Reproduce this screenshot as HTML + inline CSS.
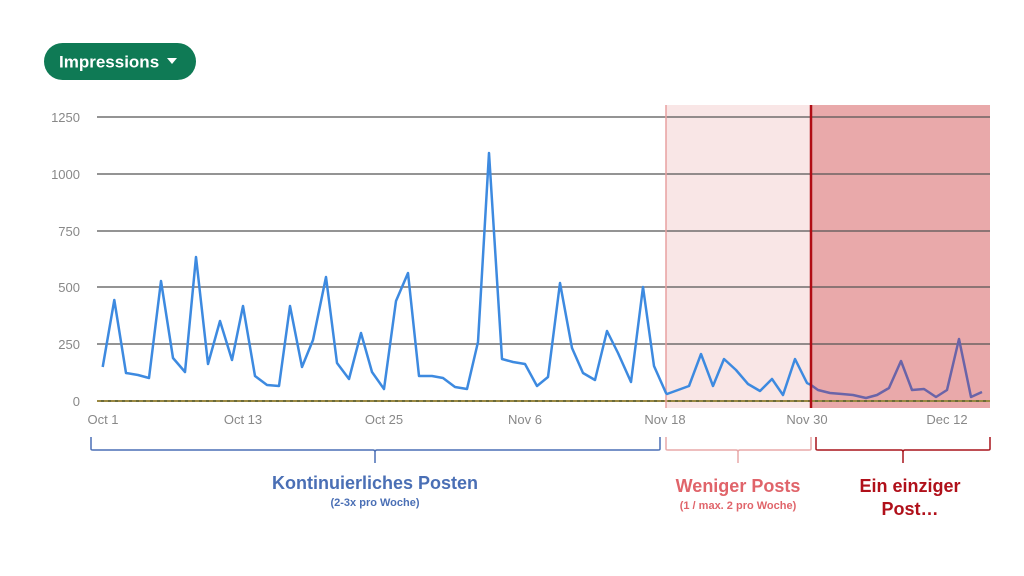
<!DOCTYPE html>
<html><head><meta charset="utf-8"><style>
html,body{margin:0;padding:0;background:#fff;width:1024px;height:576px;overflow:hidden}
svg{display:block}
text{font-family:"Liberation Sans",sans-serif}
</style></head><body>
<svg width="1024" height="576" viewBox="0 0 1024 576" xmlns="http://www.w3.org/2000/svg">
<rect x="44" y="43" width="152" height="37" rx="18.5" fill="#0f7a55"/>
<text x="59" y="67.5" font-size="17" font-weight="bold" fill="#fff">Impressions</text>
<path d="M167 58 L177 58 L172 64 Z" fill="#fff"/>
<rect x="666" y="105" width="145" height="303" fill="#f9e6e6"/>
<rect x="811" y="105" width="179" height="303" fill="#e9a9aa"/>
<g stroke="#555" stroke-width="1.3">
<line x1="97" y1="117" x2="990" y2="117"/>
<line x1="97" y1="174" x2="990" y2="174"/>
<line x1="97" y1="231" x2="990" y2="231"/>
<line x1="97" y1="287" x2="990" y2="287"/>
<line x1="97" y1="344" x2="990" y2="344"/>
</g>
<line x1="97" y1="401" x2="990" y2="401" stroke="#6b6b3a" stroke-width="2"/>
<line x1="97" y1="401" x2="990" y2="401" stroke="#c9a54a" stroke-width="1" stroke-dasharray="4 3"/>
<line x1="666" y1="105" x2="666" y2="408" stroke="#e8a0a0" stroke-width="1.5"/>
<g font-size="13" fill="#888" text-anchor="end">
<text x="80" y="122">1250</text><text x="80" y="179">1000</text><text x="80" y="236">750</text>
<text x="80" y="292">500</text><text x="80" y="349">250</text><text x="80" y="406">0</text>
</g>
<g font-size="13" fill="#888" text-anchor="middle">
<text x="103" y="424">Oct 1</text><text x="243" y="424">Oct 13</text><text x="384" y="424">Oct 25</text>
<text x="525" y="424">Nov 6</text><text x="665" y="424">Nov 18</text><text x="807" y="424">Nov 30</text><text x="947" y="424">Dec 12</text>
</g>
<polyline fill="none" stroke="#3d8ae0" stroke-width="2.5" stroke-linejoin="round" points="102.7,367 114.3,300 126,373 138,375 149,378 161,281 173,358 185,372 196,257 208,364 220,321 232,360 243,306 255,376 267,385 279,386 290,306 302,367 313,340 326,277 337,363 349,379 361,333 372,372 384,389 396,301 408,273 419,376 432,376 443,378 455,387 467,389 478,342 489,153 502,359 513,362 525,364 537,386 548,377 560,283 572,348 583,373 595,380 607,331 618,353 631,382 643,287 654,366 666,393 667,394 689,386 701,354 713,386 724,359 736,370 748,384 760,391 772,379 783,395 795,359 807,383 811,385"/>
<polyline fill="none" stroke="#6a64a8" stroke-width="2.5" stroke-linejoin="round" points="811,385 818,390 830,393 842,394 853,395 866,398 877,395 889,388 901,361 912,390 924,389 936,397 947,390 959,339 971,397 982,392"/>
<line x1="811" y1="105" x2="811" y2="408" stroke="#b00d14" stroke-width="2.5"/>
<g fill="none" stroke-width="1.5">
<path d="M91 437 L91 449 Q91 450 93 450 L373 450 Q375 450 375 452 L375 463 M375 452 Q375 450 377 450 L658 450 Q660 450 660 449 L660 437" stroke="#4a6fb5"/>
<path d="M666 437 L666 449 Q666 450 668 450 L736 450 Q738 450 738 452 L738 463 M738 452 Q738 450 740 450 L809 450 Q811 450 811 449 L811 437" stroke="#e8a8a8"/>
<path d="M816 437 L816 449 Q816 450 818 450 L901 450 Q903 450 903 452 L903 463 M903 452 Q903 450 905 450 L988 450 Q990 450 990 449 L990 437" stroke="#a8141b"/>
</g>
<g text-anchor="middle" font-weight="bold">
<text x="375" y="489" font-size="18" fill="#4a6fb5">Kontinuierliches Posten</text>
<text x="375" y="506" font-size="11" fill="#4a6fb5">(2-3x pro Woche)</text>
<text x="738" y="492" font-size="18" fill="#e0646a">Weniger Posts</text>
<text x="738" y="509" font-size="11" fill="#e0646a">(1 / max. 2 pro Woche)</text>
<text x="910" y="492" font-size="18" fill="#b0101a">Ein einziger</text>
<text x="910" y="515" font-size="18" fill="#b0101a">Post…</text>
</g>
</svg>
</body></html>
